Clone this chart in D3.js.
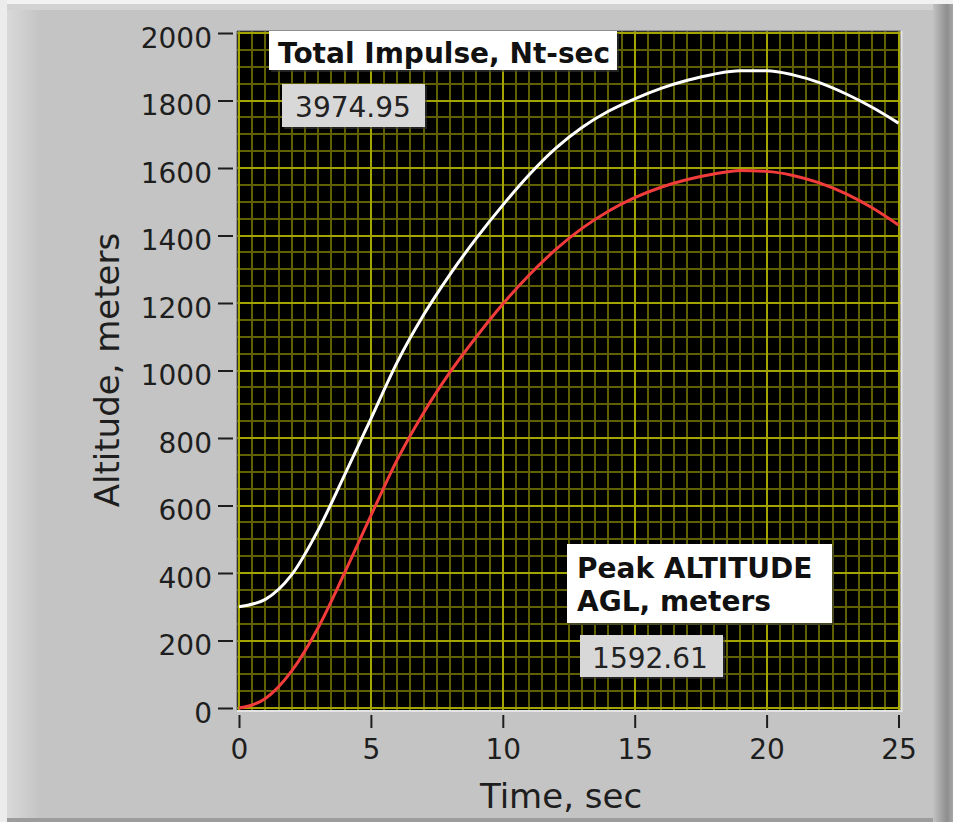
<!DOCTYPE html>
<html>
<head>
<meta charset="utf-8">
<script src="https://cdn.jsdelivr.net/npm/d3@7"></script>
<style>
  body { margin: 0; background: #fff; }
  svg { display: block; font-family: "DejaVu Sans", sans-serif; }
</style>
</head>
<body>
<svg id="AltitudeChart" width="953" height="822"></svg>
<script>
// flight data, one sample per second
const timeSec = [0, 1, 2, 3, 4, 5, 6, 7, 8, 9, 10, 11, 12, 13, 14, 15, 16, 17, 18, 19, 20, 21, 22, 23, 24, 25];
const altitudeUpper = [300, 322, 395, 527, 690, 857, 1025, 1165, 1285, 1392, 1490, 1580, 1658, 1720, 1768, 1805, 1836, 1860, 1878, 1888, 1888, 1876, 1853, 1820, 1780, 1733];
const altitudeAGL = [0, 28, 110, 238, 400, 570, 736, 875, 995, 1100, 1197, 1283, 1358, 1421, 1472, 1512, 1543, 1566, 1582, 1592.61, 1590, 1578, 1556, 1524, 1482, 1431];

const xTickValues = [0, 5, 10, 15, 20, 25];
const yTickValues = [0, 200, 400, 600, 800, 1000, 1200, 1400, 1600, 1800, 2000];
const totalImpulse = 3974.95;

const svg = d3.select("#AltitudeChart");
const width = +svg.attr("width");
const height = +svg.attr("height");
const margin = { top: 33, right: 54.5, bottom: 114, left: 239 };
const innerW = width - margin.left - margin.right;
const innerH = height - margin.top - margin.bottom;

// panel frame
const defs = svg.append("defs");
const leftBevel = defs.append("linearGradient").attr("id", "leftBevel");
leftBevel.append("stop").attr("offset", "0%").attr("stop-color", "#d9d9d9");
leftBevel.append("stop").attr("offset", "100%").attr("stop-color", "#c4c4c4");
const rightShade = defs.append("linearGradient").attr("id", "rightShade");
rightShade.append("stop").attr("offset", "0%").attr("stop-color", "#c2c2c2");
rightShade.append("stop").attr("offset", "70%").attr("stop-color", "#8e8e8e");
rightShade.append("stop").attr("offset", "100%").attr("stop-color", "#a6a6a6");

svg.append("rect").attr("width", width).attr("height", height).attr("fill", "#c4c4c4");
svg.append("rect").attr("width", width).attr("height", 4).attr("fill", "#f2f2f2");
svg.append("rect").attr("x", 0).attr("y", 0).attr("width", 7).attr("height", height).attr("fill", "#ececec");
svg.append("rect").attr("x", 7).attr("y", 4).attr("width", 926).attr("height", 6).attr("fill", "#d2d2d2");
svg.append("rect").attr("x", 7).attr("y", 10).attr("width", 33).attr("height", 808).attr("fill", "url(#leftBevel)");
svg.append("rect").attr("x", 933).attr("y", 4).attr("width", 20).attr("height", height - 4).attr("fill", "url(#rightShade)");
svg.append("rect").attr("x", 7).attr("y", 818).attr("width", 926).attr("height", 4).attr("fill", "#9c9c9c");

const g = svg.append("g").attr("transform", `translate(${margin.left},${margin.top})`);

const x = d3.scaleLinear().domain([0, 25]).range([0, innerW]);
const y = d3.scaleLinear().domain([0, 2000]).range([innerH, 0]);

// plot background
g.append("rect")
    .attr("x", -2).attr("y", -2)
    .attr("width", innerW + 4).attr("height", innerH + 4)
    .attr("fill", "#000");

// grid: minor every 0.5 s / 50 m, major on the labelled ticks
const grid = g.append("g").attr("stroke-width", 2).attr("shape-rendering", "crispEdges");
grid.selectAll(".vminor")
    .data(d3.range(0, 25.01, 0.5))
    .join("line")
    .attr("x1", d => x(d)).attr("x2", d => x(d))
    .attr("y1", -2).attr("y2", innerH + 2)
    .attr("stroke", "#606000");
grid.selectAll(".hminor")
    .data(d3.range(0, 2000.1, 50))
    .join("line")
    .attr("y1", d => y(d)).attr("y2", d => y(d))
    .attr("x1", -2).attr("x2", innerW + 2)
    .attr("stroke", "#606000");
grid.selectAll(".vmajor")
    .data(xTickValues)
    .join("line")
    .attr("x1", d => x(d)).attr("x2", d => x(d))
    .attr("y1", -2).attr("y2", innerH + 2)
    .attr("stroke", "#a4a400");
grid.selectAll(".hmajor")
    .data(yTickValues)
    .join("line")
    .attr("y1", d => y(d)).attr("y2", d => y(d))
    .attr("x1", -2).attr("x2", innerW + 2)
    .attr("stroke", "#a4a400");

// plot edge bevel
g.append("path")
    .attr("d", `M-2,${innerH + 2}V-2H${innerW + 2}`)
    .attr("fill", "none").attr("stroke", "#5c5c5c").attr("stroke-width", 1);
g.append("path")
    .attr("d", `M-2,${innerH + 3}H${innerW + 3}V-2`)
    .attr("fill", "none").attr("stroke", "#e4e4e4").attr("stroke-width", 2);

// traces
const makeLine = values => d3.line()
    .x((d, i) => x(timeSec[i]))
    .y(d => y(d))
    .curve(d3.curveMonotoneX)(values);

g.append("path")
    .attr("d", makeLine(altitudeUpper))
    .attr("fill", "none")
    .attr("stroke", "#ffffff")
    .attr("stroke-width", 3);

g.append("path")
    .attr("d", makeLine(altitudeAGL))
    .attr("fill", "none")
    .attr("stroke", "#f23c3c")
    .attr("stroke-width", 3);

// axes
const yAxis = g.append("g")
    .attr("transform", "translate(-6,0)")
    .call(d3.axisLeft(y).tickValues(yTickValues).tickSize(15).tickPadding(6).tickFormat(d3.format("d")));
const xAxis = g.append("g")
    .attr("transform", `translate(0,${innerH + 7})`)
    .call(d3.axisBottom(x).tickValues(xTickValues).tickSize(13).tickPadding(11));

[yAxis, xAxis].forEach(ax => {
    ax.attr("font-family", "DejaVu Sans, sans-serif").attr("font-size", 28).attr("color", "#1e1e1e");
    ax.select(".domain").remove();
    ax.selectAll(".tick line").attr("stroke-width", 2);
});
yAxis.selectAll(".tick text").attr("dy", "0.5em");

// axis titles
g.append("text")
    .attr("x", 322)
    .attr("y", innerH + 100)
    .attr("text-anchor", "middle")
    .attr("fill", "#1e1e1e")
    .style("font-size", "34px")
    .text("Time, sec");

g.append("text")
    .attr("transform", "rotate(-90)")
    .attr("x", -(370 - margin.top))
    .attr("y", 119 - margin.left)
    .attr("text-anchor", "middle")
    .attr("fill", "#1e1e1e")
    .style("font-size", "34px")
    .text("Altitude, meters");

// indicator labels drawn on the plot
function labelBox(x0, y0, w, h, fill) {
    svg.append("rect").attr("x", x0 + 2).attr("y", y0 + 2).attr("width", w).attr("height", h)
        .attr("fill", "#3a3a3a").attr("opacity", 0.6);
    svg.append("rect").attr("x", x0).attr("y", y0).attr("width", w).attr("height", h).attr("fill", fill);
}

labelBox(269, 31, 348, 39, "#ffffff");
svg.append("text")
    .attr("x", 278).attr("y", 63)
    .attr("fill", "#111")
    .style("font-size", "28px").style("font-weight", "bold")
    .text("Total Impulse, Nt-sec");

labelBox(282, 84, 143, 43, "#d8d8d8");
svg.append("text")
    .attr("x", 353).attr("y", 117)
    .attr("text-anchor", "middle")
    .attr("fill", "#222")
    .style("font-size", "28px")
    .text(d3.format(".2f")(totalImpulse));

labelBox(567, 544, 265, 79, "#ffffff");
svg.append("text")
    .attr("x", 577).attr("y", 578)
    .attr("fill", "#111")
    .style("font-size", "28px").style("font-weight", "bold")
    .text("Peak ALTITUDE");
svg.append("text")
    .attr("x", 577).attr("y", 611)
    .attr("fill", "#111")
    .style("font-size", "28px").style("font-weight", "bold")
    .text("AGL, meters");

labelBox(580, 635, 143, 42, "#d8d8d8");
svg.append("text")
    .attr("x", 650).attr("y", 668)
    .attr("text-anchor", "middle")
    .attr("fill", "#222")
    .style("font-size", "28px")
    .text(d3.format(".2f")(d3.max(altitudeAGL)));
</script>
</body>
</html>
